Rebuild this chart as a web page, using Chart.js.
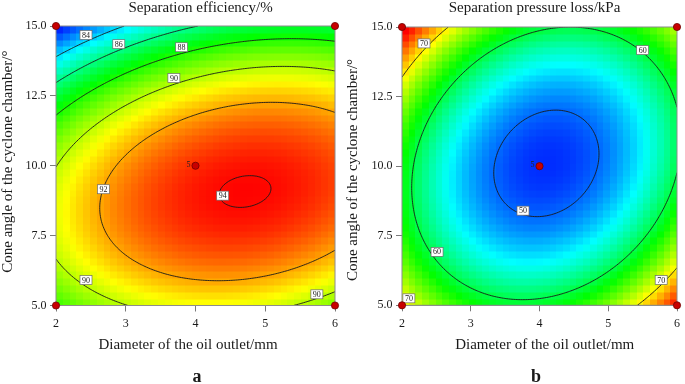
<!DOCTYPE html>
<html>
<head>
<meta charset="utf-8">
<script src="https://cdn.jsdelivr.net/npm/chart.js@4.4.0/dist/chart.umd.min.js"></script>
<style>
  body { margin: 0; background: #fff; }
  #wrap { position: relative; width: 685px; height: 384px; }
  canvas { position: absolute; top: 0; }
</style>
</head>
<body>
<div id="wrap">
  <canvas id="chart-a" width="343" height="384" style="left:0"></canvas>
  <canvas id="chart-b" width="342" height="384" style="left:343px"></canvas>
</div>
<script>
const xTicks = [2, 3, 4, 5, 6];
const yTicks = [5, 7.5, 10, 12.5, 15];
const xRange = [2, 6];
const yRange = [5, 15];

// design points: four corners plus the centre point (run 5 times)
const designX = [2, 2, 6, 6, 4];
const designY = [5, 15, 5, 15, 10];
const designRuns = [1, 1, 1, 1, 5];

// quadratic response surfaces, coded A=(x-4)/2, B=(y-10)/5
// [intercept, A, B, AB, A^2, B^2]
const effCoef = [93.56, 1.62, -2.36, 1.19, -1.97, -5.25];
const lossCoef = [48.23, -1.18, -0.28, -4.5, 12.7, 12.7];

const effLevels = [84, 86, 88, 90, 92, 94];
const lossLevels = [50, 60, 70];

// value range spanned by the blue..red colour scale
const effColourRange = [81.2, 94.1];
const lossColourRange = [46.9, 77.1];

const FONT = '"Liberation Serif", "Times New Roman", serif';

function response(c, x, y) {
    const a = (x - 4) / 2, b = (y - 10) / 5;
    return c[0] + c[1] * a + c[2] * b + c[3] * a * b + c[4] * a * a + c[5] * b * b;
}

// blue -> cyan -> green -> yellow -> red
const stops = [[0, 0, 255], [0, 255, 255], [0, 255, 0], [255, 255, 0], [255, 0, 0]];
function colour(t) {
    t = Math.min(1, Math.max(0, t)) * (stops.length - 1);
    const i = Math.min(stops.length - 2, Math.floor(t));
    const f = t - i;
    const c = stops[i].map((v, k) => Math.round(v + (stops[i + 1][k] - v) * f));
    return `rgb(${c[0]},${c[1]},${c[2]})`;
}

const surfacePlugin = {
    id: 'surface',
    beforeDatasetsDraw(chart, args, opts) {
        const { ctx, chartArea: area, scales: { x, y } } = chart;
        const n = opts.cells;
        const dx = (xRange[1] - xRange[0]) / n;
        const dy = (yRange[1] - yRange[0]) / n;
        const [lo, hi] = opts.range;

        ctx.save();
        ctx.beginPath();
        ctx.rect(area.left, area.top, area.right - area.left, area.bottom - area.top);
        ctx.clip();

        for (let i = 0; i < n; i++) {
            const l = Math.round(x.getPixelForValue(xRange[0] + i * dx));
            const r = Math.round(x.getPixelForValue(xRange[0] + (i + 1) * dx));
            for (let j = 0; j < n; j++) {
                const b = Math.round(y.getPixelForValue(yRange[0] + j * dy));
                const t = Math.round(y.getPixelForValue(yRange[0] + (j + 1) * dy));
                const v = response(opts.coef, xRange[0] + (i + 0.5) * dx, yRange[0] + (j + 0.5) * dy);
                ctx.fillStyle = colour((v - lo) / (hi - lo));
                ctx.fillRect(l, t, r - l + 0.5, b - t + 0.5);
            }
        }

        // contour lines, marching squares on a fine grid
        const m = 160;
        const gx = (xRange[1] - xRange[0]) / m;
        const gy = (yRange[1] - yRange[0]) / m;
        const g = [];
        for (let i = 0; i <= m; i++) {
            g.push([]);
            for (let j = 0; j <= m; j++) {
                g[i].push(response(opts.coef, xRange[0] + i * gx, yRange[0] + j * gy));
            }
        }
        ctx.strokeStyle = '#1a1a1a';
        ctx.lineWidth = 0.9;
        ctx.beginPath();
        opts.levels.forEach(level => {
            for (let i = 0; i < m; i++) {
                for (let j = 0; j < m; j++) {
                    const corners = [[i, j], [i + 1, j], [i + 1, j + 1], [i, j + 1]];
                    const pts = [];
                    for (let k = 0; k < 4; k++) {
                        const p = corners[k], q = corners[(k + 1) % 4];
                        const va = g[p[0]][p[1]] - level, vb = g[q[0]][q[1]] - level;
                        if ((va < 0) !== (vb < 0)) {
                            const f = va / (va - vb);
                            const px = xRange[0] + (p[0] + (q[0] - p[0]) * f) * gx;
                            const py = yRange[0] + (p[1] + (q[1] - p[1]) * f) * gy;
                            pts.push([x.getPixelForValue(px), y.getPixelForValue(py)]);
                        }
                    }
                    for (let k = 0; k + 1 < pts.length; k += 2) {
                        ctx.moveTo(pts[k][0], pts[k][1]);
                        ctx.lineTo(pts[k + 1][0], pts[k + 1][1]);
                    }
                }
            }
        });
        ctx.stroke();

        // level tags
        ctx.font = `8px ${FONT}`;
        ctx.textAlign = 'center';
        ctx.textBaseline = 'middle';
        opts.tags.forEach(([level, tx, ty]) => {
            const px = x.getPixelForValue(tx), py = y.getPixelForValue(ty);
            ctx.fillStyle = '#fff';
            ctx.fillRect(px - 6, py - 4.5, 12, 9);
            ctx.strokeStyle = '#6a6a6a';
            ctx.lineWidth = 0.7;
            ctx.strokeRect(px - 6, py - 4.5, 12, 9);
            ctx.fillStyle = '#222';
            ctx.fillText(String(level), px, py + 0.5);
        });
        ctx.restore();

        ctx.save();
        ctx.strokeStyle = '#8c8c8c';
        ctx.lineWidth = 1;
        ctx.strokeRect(area.left, area.top, area.right - area.left, area.bottom - area.top);
        ctx.restore();
    },
    afterDatasetsDraw(chart) {
        const { ctx } = chart;
        const meta = chart.getDatasetMeta(0);
        ctx.save();
        ctx.font = `8px ${FONT}`;
        ctx.fillStyle = '#222';
        ctx.textAlign = 'right';
        ctx.textBaseline = 'middle';
        meta.data.forEach((pt, i) => {
            if (designRuns[i] > 1) ctx.fillText(String(designRuns[i]), pt.x - 5, pt.y - 1);
        });
        ctx.restore();
    }
};

const textPlugin = {
    id: 'texts',
    afterDraw(chart, args, opts) {
        const { ctx } = chart;
        ctx.save();
        ctx.fillStyle = '#1a1a1a';
        ctx.textBaseline = 'alphabetic';
        ctx.textAlign = 'center';
        ctx.font = `15px ${FONT}`;
        ctx.fillText(opts.title[0], opts.title[1], opts.title[2]);
        ctx.fillText(opts.xTitle[0], opts.xTitle[1], opts.xTitle[2]);
        ctx.save();
        ctx.translate(opts.yTitle[1], opts.yTitle[2]);
        ctx.rotate(-Math.PI / 2);
        ctx.fillText(opts.yTitle[0], 0, 0);
        ctx.restore();
        ctx.font = `bold 18px ${FONT}`;
        ctx.fillText(opts.letter[0], opts.letter[1], opts.letter[2]);
        ctx.restore();
    }
};

function makeChart(id, panel) {
    const tickFont = { family: FONT, size: 12 };
    return new Chart(document.getElementById(id), {
        type: 'scatter',
        data: {
            datasets: [{
                data: designX.map((v, i) => ({ x: v, y: designY[i] })),
                pointRadius: 3.6,
                pointBackgroundColor: '#c80000',
                pointBorderColor: '#700000',
                pointBorderWidth: 0.8,
                clip: false
            }]
        },
        options: {
            responsive: false,
            animation: false,
            devicePixelRatio: 1,
            layout: { padding: panel.padding },
            plugins: {
                legend: { display: false },
                tooltip: { enabled: false },
                surface: { coef: panel.coef, levels: panel.levels, tags: panel.tags, range: panel.range, cells: 41 },
                texts: panel.texts
            },
            scales: {
                x: {
                    type: 'linear',
                    min: xRange[0],
                    max: xRange[1],
                    afterBuildTicks: s => { s.ticks = xTicks.map(v => ({ value: v })); },
                    afterFit: s => { s.height = panel.xAxisHeight; },
                    grid: { drawOnChartArea: false, tickLength: 6, color: '#7a7a7a' },
                    border: { color: '#8c8c8c' },
                    ticks: { font: tickFont, color: '#1a1a1a', padding: 5, maxRotation: 0, callback: v => String(v) }
                },
                y: {
                    type: 'linear',
                    min: yRange[0],
                    max: yRange[1],
                    afterBuildTicks: s => { s.ticks = yTicks.map(v => ({ value: v })); },
                    afterFit: s => { s.width = panel.yAxisWidth; },
                    grid: { drawOnChartArea: false, tickLength: 6, color: '#7a7a7a' },
                    border: { color: '#8c8c8c' },
                    ticks: { font: tickFont, color: '#1a1a1a', padding: 3.5, callback: v => Number(v).toFixed(1) }
                }
            }
        },
        plugins: [surfacePlugin, textPlugin]
    });
}

const yLabel = 'Cone angle of the cyclone chamber/°';
const xLabel = 'Diameter of the oil outlet/mm';

makeChart('chart-a', {
    coef: effCoef,
    levels: effLevels,
    range: effColourRange,
    tags: [[84, 2.43, 14.68], [86, 2.9, 14.35], [88, 3.8, 14.24], [90, 3.69, 13.14],
           [92, 2.68, 9.16], [94, 4.39, 8.93], [90, 2.43, 5.91], [90, 5.74, 5.4]],
    padding: { left: 0, top: 26, right: 7.5, bottom: 32 },
    xAxisHeight: 46.5,
    yAxisWidth: 56,
    texts: {
        title: ['Separation efficiency/%', 200.5, 12.3],
        xTitle: [xLabel, 188, 348.5],
        yTitle: [yLabel, 11.5, 161.7],
        letter: ['a', 197, 382]
    }
});

makeChart('chart-b', {
    coef: lossCoef,
    levels: lossLevels,
    range: lossColourRange,
    tags: [[70, 2.32, 14.41], [60, 5.5, 14.17], [50, 3.76, 8.4], [60, 2.51, 6.92],
           [70, 2.1, 5.25], [70, 5.77, 5.91]],
    padding: { left: 0, top: 27, right: 3.7, bottom: 32 },
    xAxisHeight: 46.7,
    yAxisWidth: 59,
    texts: {
        title: ['Separation pressure loss/kPa', 191.5, 12.3],
        xTitle: [xLabel, 201.7, 348.5],
        yTitle: [yLabel, 14, 170],
        letter: ['b', 193, 381.7]
    }
});
</script>
</body>
</html>
